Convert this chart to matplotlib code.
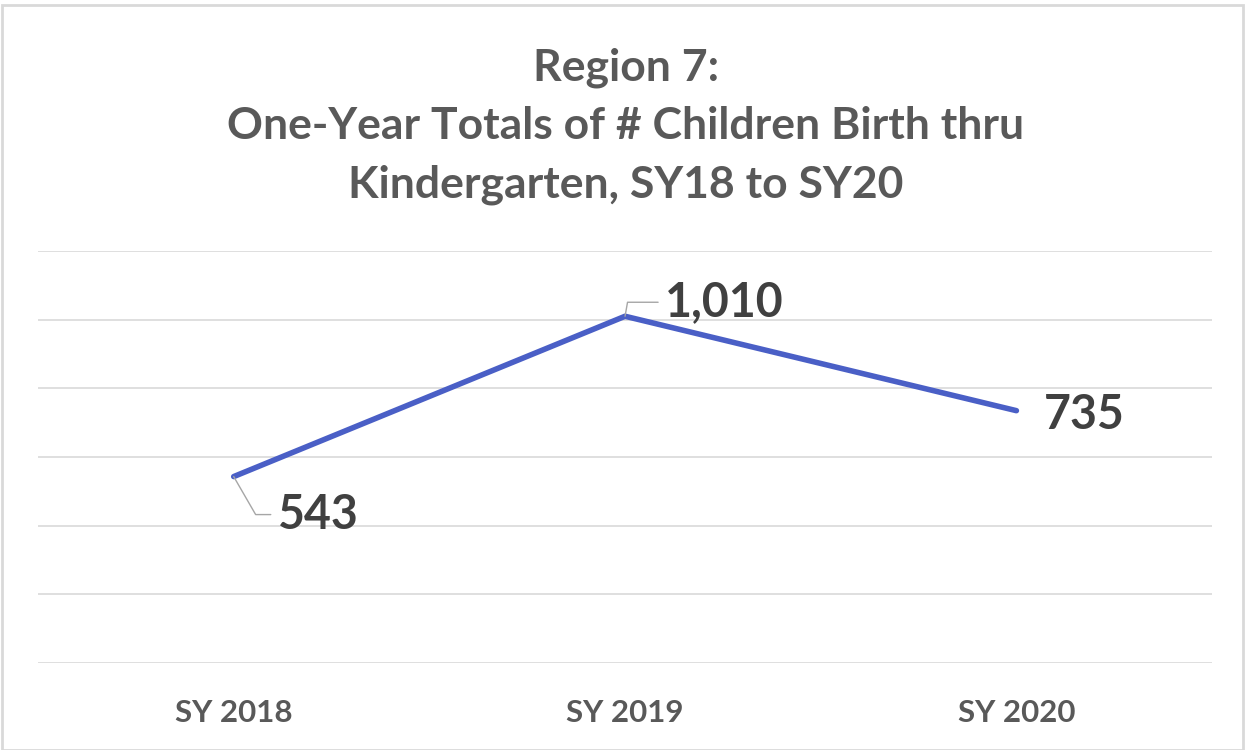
import matplotlib.pyplot as plt
from matplotlib.patches import Rectangle
from matplotlib.ticker import MultipleLocator

# data
years = ["SY 2018", "SY 2019", "SY 2020"]
totals = [543, 1010, 735]
# label offsets in pixels (dx, dy), leader angle at the point (None = no leader)
label_offsets = [(44, -38), (40, 14), (27, -4)]
leader_angles = [-60, 80, None]

title = "Region 7:\nOne-Year Totals of # Children Birth thru\nKindergarten, SY18 to SY20"

plt.rcParams["font.family"] = ["Lato", "DejaVu Sans"]

fig = plt.figure(figsize=(12.47, 7.5), dpi=100)
ax = fig.add_axes([0.0305, 0.116, 0.9415, 0.5493])

x = list(range(len(years)))
ax.plot(x, totals, color="#4A5FC6", lw=4, solid_capstyle="round", zorder=3)

ax.set_xlim(-0.5, len(years) - 0.5)
ax.set_ylim(0, 1200)
ax.yaxis.set_major_locator(MultipleLocator(200))
ax.grid(axis="y", color="#d9d9d9", lw=1.2)
ax.set_axisbelow(True)
ax.set_yticklabels([])
ax.tick_params(axis="y", length=0)
ax.tick_params(axis="x", length=0, pad=26)
ax.set_xticks(x)
ax.set_xticklabels(years, fontsize=22.5, fontweight="bold", color="#595959")
for s in ax.spines.values():
    s.set_visible(False)

px = 72 / fig.dpi
for xi, v, (dx, dy), ang in zip(x, totals, label_offsets, leader_angles):
    props = None
    if ang is not None:
        props = dict(arrowstyle="-", color="#a6a6a6", lw=1, shrinkA=3, shrinkB=0,
                     connectionstyle="angle,angleA=0,angleB=%d,rad=0" % ang,
                     relpos=(0, 0.5))
    ax.annotate(f"{v:,}", (xi, v), xytext=(dx * px, dy * px), textcoords="offset points",
                ha="left", va="center", fontsize=33.5, fontweight="bold", color="#404040",
                arrowprops=props)

fig.text(0.502, 0.937, title, ha="center", va="top", fontsize=32, fontweight="bold",
         color="#595959", linespacing=1.55)

fig.patches.append(Rectangle((0.002, 0.0), 0.995, 0.994, transform=fig.transFigure,
                             fill=False, edgecolor="#d9d9d9", lw=2))

fig.savefig("out.png", dpi=100)
